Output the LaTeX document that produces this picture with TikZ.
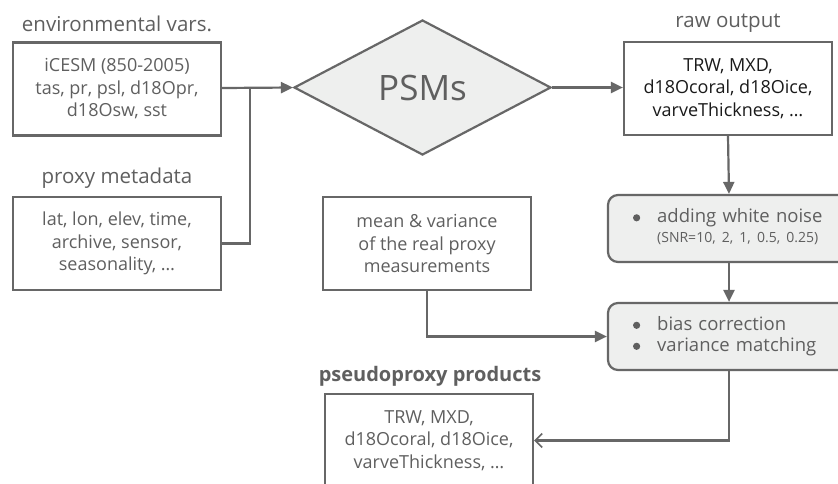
\documentclass[tikz,border=0pt]{standalone}
\usepackage{fontspec}
\setmainfont{Open Sans}
\usetikzlibrary{shapes.geometric,arrows.meta}
\definecolor{txt}{HTML}{5F5F5F}
\definecolor{ln}{HTML}{676767}
\definecolor{fl}{HTML}{EEEFEE}
\definecolor{dark}{HTML}{1A1A1A}
\newcommand{\mybul}{\raisebox{1.5pt}{\tikz\fill[txt] (0,0) circle (3.6pt);}}
\tikzset{
  base/.style={font=\fontsize{18}{22.5}\selectfont, text=txt},
  lbl/.style={text=txt, font=\fontsize{20.5}{24}\selectfont, inner sep=0pt},
  sqbox/.style={base, draw=ln, line width=2.2pt, fill=white, minimum width=208pt, minimum height=93pt, inner sep=0pt, align=center},
  rbox/.style={text=txt, font=\fontsize{18.5}{22}\selectfont, draw=ln, line width=2.2pt, fill=fl, rounded corners=10pt, minimum width=242pt, minimum height=67pt, inner xsep=0pt, inner ysep=0pt, text width=192pt, align=left},
  dia/.style={text=txt, diamond, draw=ln, line width=2.2pt, fill=fl, minimum width=257pt, minimum height=135pt, inner sep=0pt, font=\fontsize{35}{40}\selectfont},
  con/.style={draw=ln, line width=2.2pt},
  arr/.style={con, -{Triangle[length=12pt,width=11pt]}},
  barb/.style={con, -{Straight Barb[length=7pt,width=14pt,line width=1.6pt]}}
}
\begin{document}
\begin{tikzpicture}[x=1pt,y=-1pt]
\useasboundingbox[fill=white] (0,0) rectangle (838,483);
% labels
\node[lbl] (envlbl) at (117,24) {environmental vars.};
\node[lbl] (metalbl) at (117,178) {proxy metadata};
\node[lbl] (rawlbl) at (728,23) {raw output};
\node[lbl, font=\fontsize{20}{24}\selectfont\bfseries] (pseulbl) at (430,376) {pseudoproxy products};
% boxes
\node[sqbox] (env) at (117,89) {iCESM (850-2005)\\tas, pr, psl, d18Opr,\\d18Osw, sst};
\node[sqbox] (meta) at (117,243.5) {lat, lon, elev, time,\\archive, sensor,\\seasonality, \dots};
\node[dia] (psm) at (422.5,87.5) {PSMs};
\node[sqbox, text=dark] (raw) at (728,88.5) {TRW, MXD,\\d18Ocoral, d18Oice,\\varveThickness, \dots};
\node[rbox] (noise) at (729,228.5) {\begin{tabular}{@{}l@{\hspace{17pt}}l@{}}\mybul & adding white noise\\[-2pt] & {\fontsize{14}{16}\selectfont (SNR=10, 2, 1, 0.5, 0.25)}\end{tabular}};
\node[rbox] (bias) at (729,336.5) {\begin{tabular}{@{}l@{\hspace{17pt}}l@{}}\mybul & bias correction\\[-1pt] \mybul & variance matching\end{tabular}};
\node[sqbox] (mean) at (427,243.5) {mean \& variance\\of the real proxy\\measurements};
\node[sqbox] (pseu) at (429,440.5) {TRW, MXD,\\d18Ocoral, d18Oice,\\varveThickness, \dots};
% connectors
\coordinate (j) at (250,88);
\draw[arr] (env.east |- j) -- (psm.west);
\draw[con] (meta.east) -| (j);
\draw[arr] (psm.east) -- (raw.west |- psm.east);
\draw[arr] (raw.south) -- (noise.north);
\draw[arr] (noise.south) -- (bias.north);
\draw[arr] (mean.south) |- (bias.west);
\draw[barb] (bias.south) |- (pseu.east);
\end{tikzpicture}
\end{document}
